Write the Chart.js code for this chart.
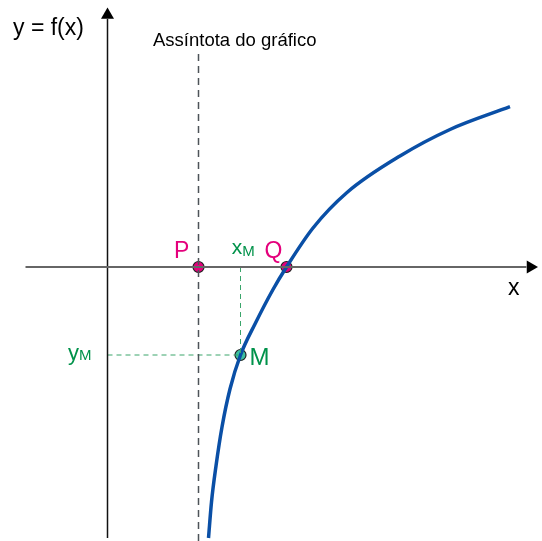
<!DOCTYPE html>
<html>
<head>
<meta charset="utf-8">
<script src="https://cdn.jsdelivr.net/npm/chart.js@4/dist/chart.umd.min.js"></script>
<style>
html,body{margin:0;padding:0;background:#fff;}
#wrap{width:542px;height:541px;position:relative;}
</style>
</head>
<body>
<div id="wrap"><canvas id="c"></canvas></div>
<script>
// Curve y = f(x) (units: origin at axes crossing)
const curveX = [101,104,108.5,114.5,122.5,133,147.5,165.5,179,205.5,239.5,292.5,342.5,402.5];
const curveY = [-271,-235,-199,-160,-122,-88,-57,-22.5,0,39,74.5,111,137.5,160.3];
// Special points
const asymptoteX = 91;
const pointP = [91, 0];
const pointQ = [179, 0];
const pointM = [133, -88];
// Axis extents
const xAxisRange = [-82, 423];
const yAxisRange = [-271, 252];
const asymptoteRange = [-274, 215];

const magenta = '#e4007c';
const green = '#00924a';
const FONT = '"Liberation Sans", Arial, sans-serif';

const curve = curveX.map((x,i)=>({x, y: curveY[i]}));

const labels = [
  {t:'y = f(x)', x:-94.5, y:232, size:23, color:'#000'},
  {t:'Assíntota do gráfico', x:45.5, y:221.5, size:18.5, color:'#000'},
  {t:'x', x:400.5, y:-28, size:23, color:'#000'},
  {t:'P', x:66.5, y:9, size:23, color:magenta},
  {t:'Q', x:157, y:9, size:23, color:magenta},
  {t:'x', x:124.2, y:13, size:21, color:green, sub:'M', subSize:15, subDy:2},
  {t:'y', x:-39.5, y:-93, size:22, color:green, sub:'M', subSize:15, subDy:0},
  {t:'M', x:142, y:-98, size:24, color:green}
];

const textPlugin = {
  id:'texts',
  afterDatasetsDraw(chart){
    const ctx = chart.ctx, xs = chart.scales.x, ys = chart.scales.y;
    ctx.save();
    ctx.textBaseline = 'alphabetic';
    ctx.textAlign = 'left';
    labels.forEach(l=>{
      const px = xs.getPixelForValue(l.x), py = ys.getPixelForValue(l.y);
      ctx.fillStyle = l.color;
      ctx.font = l.size + 'px ' + FONT;
      ctx.fillText(l.t, px, py);
      if (l.sub){
        const w = ctx.measureText(l.t).width;
        ctx.font = l.subSize + 'px ' + FONT;
        ctx.fillText(l.sub, px + w, py + l.subDy);
      }
    });
    ctx.restore();
  }
};

new Chart(document.getElementById('c'), {
  type:'scatter',
  data:{datasets:[
    {data:[{x:xAxisRange[0],y:0},{x:xAxisRange[1]-4,y:0}], showLine:true, borderColor:'#666', borderWidth:2, pointRadius:0},
    {data:[{x:0,y:yAxisRange[0]},{x:0,y:yAxisRange[1]-4}], showLine:true, borderColor:'#111', borderWidth:1.5, pointRadius:0},
    {data:[{x:xAxisRange[1],y:0},{x:0,y:yAxisRange[1]}], showLine:false, pointStyle:'triangle', pointRotation:[90,0], pointRadius:7.5, backgroundColor:'#000', borderColor:'#000', borderWidth:0},
    {data:[{x:asymptoteX,y:asymptoteRange[0]},{x:asymptoteX,y:asymptoteRange[1]}], showLine:true, borderColor:'#4d5358', borderWidth:1.5, borderDash:[7,5], pointRadius:0},
    {data:[{x:0,y:pointM[1]},{x:pointM[0],y:pointM[1]},{x:pointM[0],y:0}], showLine:true, borderColor:'#3aa56b', borderWidth:1, borderDash:[5,4], pointRadius:0},
    {data:curve, showLine:true, borderColor:'#0a4fa6', borderWidth:3.5, pointRadius:0, cubicInterpolationMode:'monotone'},
    {data:[{x:pointP[0],y:pointP[1]},{x:pointQ[0],y:pointQ[1]}], pointRadius:5.5, backgroundColor:magenta, borderColor:'#222', borderWidth:1.2},
    {data:[{x:pointM[0],y:pointM[1]}], pointRadius:5.5, backgroundColor:'#3dc0a0', borderColor:'#222', borderWidth:1.2}
  ]},
  options:{
    responsive:true, maintainAspectRatio:false, animation:false,
    layout:{padding:0, autoPadding:false},
    clip:false,
    plugins:{legend:{display:false}, tooltip:{enabled:false}},
    events:[],
    scales:{
      x:{type:'linear', min:-107.5, max:434.5, display:false},
      y:{type:'linear', min:-274, max:267, display:false}
    }
  },
  plugins:[textPlugin]
});
</script>
</body>
</html>
